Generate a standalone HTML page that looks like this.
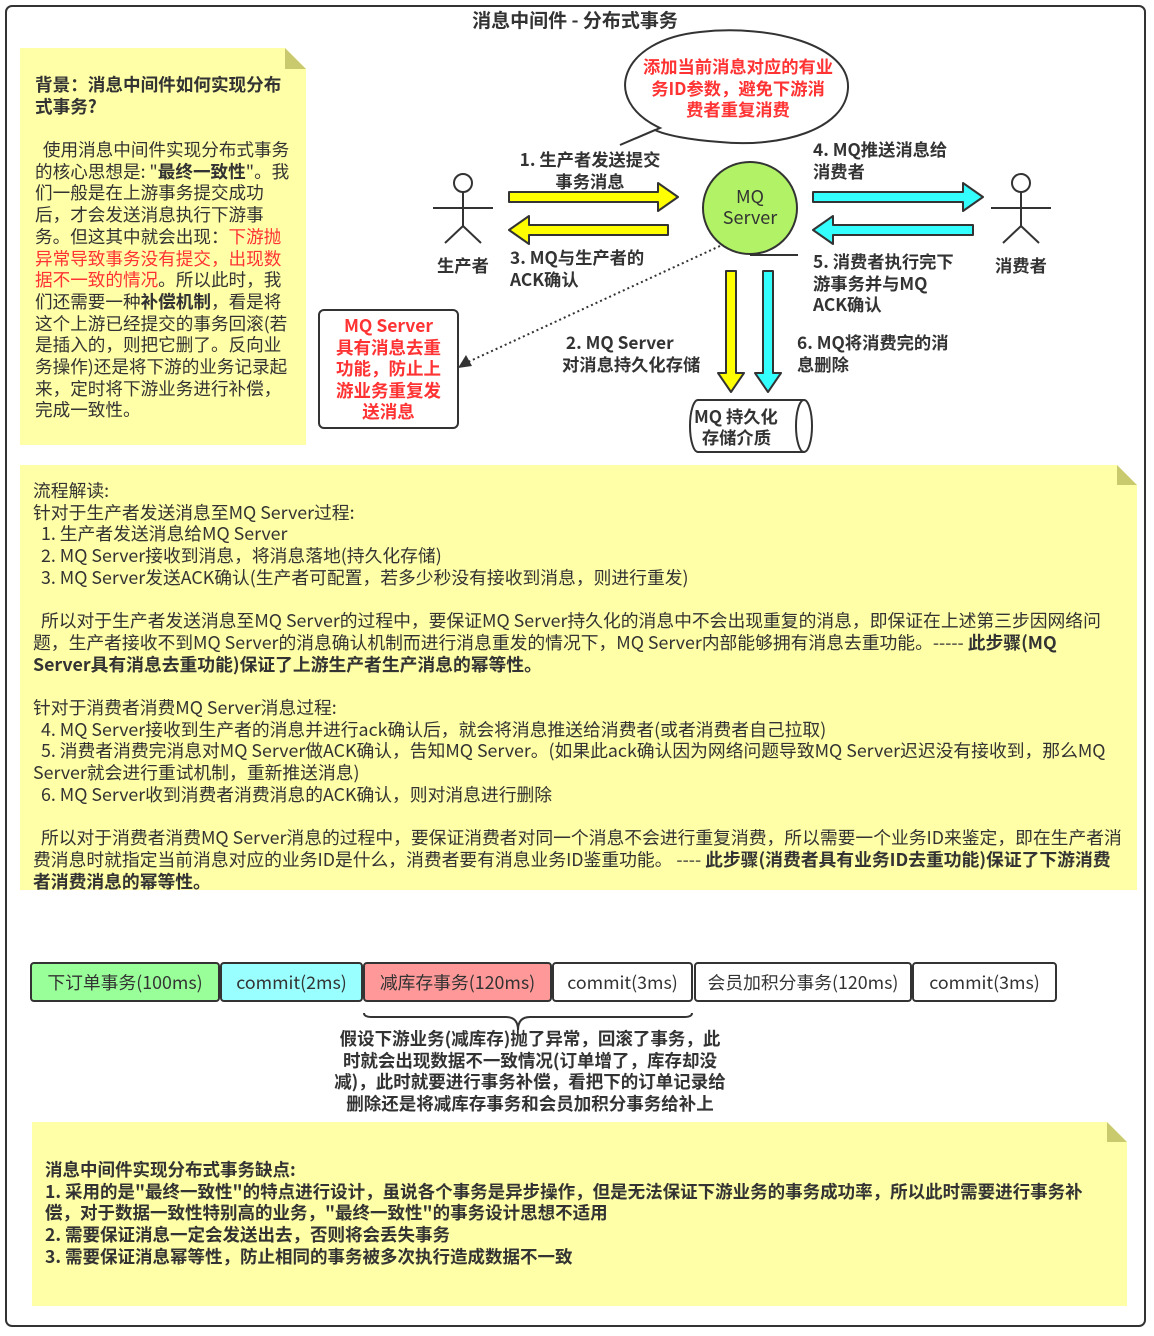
<!DOCTYPE html>
<html><head><meta charset="utf-8"><style>
body{margin:0;background:#fff;width:1154px;height:1336px;position:relative;overflow:hidden;font-family:"Noto Sans CJK SC","Liberation Sans",sans-serif;color:#333}
.a{position:absolute;white-space:nowrap}
.t{font-size:17.6px;line-height:21.7px}
.b{font-weight:bold}
.r{color:#f33}
.c{text-align:center}
</style></head><body>
<svg class="a" style="left:0;top:0" width="1154" height="1336">
<rect x="6" y="6" width="1139" height="1320" rx="6" fill="#fff" stroke="#333" stroke-width="2"/>
<path d="M20 48 H285 L306 69 V445 H20 Z" fill="#ffffa8"/>
<path d="M285 48 V69 H306 Z" fill="#c9c96e"/>
<path d="M20 465 H1117 L1137 485 V890 H20 Z" fill="#ffffa8"/>
<path d="M1117 465 V485 H1137 Z" fill="#c9c96e"/>
<path d="M32 1122 H1107 L1127 1142 V1306 H32 Z" fill="#ffffa8"/>
<path d="M1107 1122 V1142 H1127 Z" fill="#c9c96e"/>
<rect x="319" y="310" width="139" height="118" rx="5" fill="#fff" stroke="#333" stroke-width="2"/>
<path d="M660 128 C600 100 620 40 700 32 C770 24 850 45 848 88 C846 130 780 148 720 142 C690 140 665 135 655 130 L620 145 Z" fill="#fff" stroke="#333" stroke-width="2"/>
<g stroke="#333" stroke-width="2" fill="none">
<circle cx="463" cy="183" r="9"/><line x1="463" y1="192" x2="463" y2="226"/><line x1="433" y1="208" x2="493" y2="208"/><line x1="463" y1="226" x2="445" y2="243"/><line x1="463" y1="226" x2="481" y2="243"/>
<circle cx="1021" cy="183" r="9"/><line x1="1021" y1="192" x2="1021" y2="226"/><line x1="991" y1="208" x2="1051" y2="208"/><line x1="1021" y1="226" x2="1003" y2="243"/><line x1="1021" y1="226" x2="1039" y2="243"/>
</g>
<ellipse cx="750" cy="208" rx="47" ry="46" fill="#b1f266" stroke="#333" stroke-width="2"/>
<line x1="750" y1="255" x2="798" y2="255" stroke="#333" stroke-width="2"/>
<g stroke="#333" stroke-width="2" stroke-linejoin="round">
<path d="M509 192 H658 V183 L678 197 L658 211 V202 H509 Z" fill="#ff0"/>
<path d="M668 225 H529 V216 L509 230 L529 244 V235 H668 Z" fill="#ff0"/>
<path d="M813 192 H963 V183 L983 197 L963 211 V202 H813 Z" fill="#3ff"/>
<path d="M973 225 H833 V216 L813 230 L833 244 V235 H973 Z" fill="#3ff"/>
<path d="M726 271 V373 H718 L731 392 L744 373 H736 V271 Z" fill="#ff0"/>
<path d="M763 271 V373 H755 L768 392 L781 373 H773 V271 Z" fill="#3ff"/>
</g>
<line x1="720" y1="246" x2="468" y2="362" stroke="#333" stroke-width="2" stroke-dasharray="2 3"/>
<path d="M458 368 L466 355 L472 366 Z" fill="#333"/>
<path d="M698 400 H804 A8 26 0 0 1 804 452 H698 A8 26 0 0 1 698 400 Z" fill="#fff" stroke="#333" stroke-width="2"/>
<path d="M804 400 A8 26 0 0 0 804 452" fill="none" stroke="#333" stroke-width="2"/>
<g stroke="#333" stroke-width="2">
<rect x="31" y="963" width="188" height="38" rx="3" fill="#99ff99"/>
<rect x="221" y="963" width="141" height="38" rx="3" fill="#99ffff"/>
<rect x="364" y="963" width="187" height="38" rx="3" fill="#ff9999"/>
<rect x="553" y="963" width="139" height="38" rx="3" fill="#fff"/>
<rect x="695" y="963" width="216" height="38" rx="3" fill="#fff"/>
<rect x="913" y="963" width="143" height="38" rx="3" fill="#fff"/>
</g>
<path d="M364 1013 Q364 1017 372 1017 H506 Q518 1017 518 1030 Q518 1017 530 1017 H684 Q692 1017 692 1013" fill="none" stroke="#333" stroke-width="2"/>
</svg>
<div class="a b c" style="left:375px;width:400px;top:8px;font-size:19px;line-height:24px">消息中间件 - 分布式事务</div>

<div class="a b" style="left:35px;top:74px;font-size:17.6px;line-height:21.5px">背景：消息中间件如何实现分布<br>式事务?</div>
<div class="a t" style="left:35px;top:139px">&nbsp;&nbsp;使用消息中间件实现分布式事务<br>的核心思想是: "<b>最终一致性</b>"。我<br>们一般是在上游事务提交成功<br>后，才会发送消息执行下游事<br>务。但这其中就会出现：<span class="r">下游抛</span><br><span class="r">异常导致事务没有提交，出现数</span><br><span class="r">据不一致的情况</span>。所以此时，我<br>们还需要一种<b>补偿机制</b>，看是将<br>这个上游已经提交的事务回滚(若<br>是插入的，则把它删了。反向业<br>务操作)还是将下游的业务记录起<br>来，定时将下游业务进行补偿，<br>完成一致性。</div>

<div class="a b r c" style="left:319px;width:139px;top:315px;font-size:17.5px;line-height:21.5px">MQ Server<br>具有消息去重<br>功能，防止上<br>游业务重复发<br>送消息</div>
<div class="a b r c" style="left:623px;width:230px;top:55px;font-size:17.3px;line-height:21.5px">添加当前消息对应的有业<br>务ID参数，避免下游消<br>费者重复消费</div>

<div class="a b c" style="left:500px;width:180px;top:148px;font-size:17.3px;line-height:21.5px">1. 生产者发送提交<br>事务消息</div>
<div class="a b" style="left:510px;top:246px;font-size:17.3px;line-height:21.5px">3. MQ与生产者的<br>ACK确认</div>
<div class="a b" style="left:437px;top:252px;font-size:17.3px">生产者</div>
<div class="a b" style="left:995px;top:252px;font-size:17.3px">消费者</div>
<div class="a b" style="left:813px;top:138px;font-size:17.3px;line-height:21.5px">4. MQ推送消息给<br>消费者</div>
<div class="a b" style="left:813px;top:250px;font-size:17.3px;line-height:21.5px">5. 消费者执行完下<br>游事务并与MQ<br>ACK确认</div>
<div class="a b" style="left:562px;top:331px;font-size:17.3px;line-height:21.5px">&nbsp;2. MQ Server<br>对消息持久化存储</div>
<div class="a b" style="left:797px;top:331px;font-size:17.3px;line-height:21.5px">6. MQ将消费完的消<br>息删除</div>
<div class="a" style="left:703px;top:186px;width:94px;text-align:center;font-size:18px;line-height:21px;color:#333">MQ<br>Server</div>
<div class="a b" style="left:694px;top:405px;font-size:17.3px;line-height:21px">MQ 持久化<br>&nbsp;&nbsp;存储介质</div>

<div class="a t" style="left:33px;top:480px;font-size:17.8px">流程解读:<br>针对于生产者发送消息至MQ Server过程:<br>&nbsp;&nbsp;1. 生产者发送消息给MQ Server<br>&nbsp;&nbsp;2. MQ Server接收到消息，将消息落地(持久化存储)<br>&nbsp;&nbsp;3. MQ Server发送ACK确认(生产者可配置，若多少秒没有接收到消息，则进行重发)<br><br>&nbsp;&nbsp;所以对于生产者发送消息至MQ Server的过程中，要保证MQ Server持久化的消息中不会出现重复的消息，即保证在上述第三步因网络问<br>题，生产者接收不到MQ Server的消息确认机制而进行消息重发的情况下，MQ Server内部能够拥有消息去重功能。----- <b>此步骤(MQ</b><br><b>Server具有消息去重功能)保证了上游生产者生产消息的幂等性。</b><br><br>针对于消费者消费MQ Server消息过程:<br>&nbsp;&nbsp;4. MQ Server接收到生产者的消息并进行ack确认后，就会将消息推送给消费者(或者消费者自己拉取)<br>&nbsp;&nbsp;5. 消费者消费完消息对MQ Server做ACK确认，告知MQ Server。(如果此ack确认因为网络问题导致MQ Server迟迟没有接收到，那么MQ<br>Server就会进行重试机制，重新推送消息)<br>&nbsp;&nbsp;6. MQ Server收到消费者消费消息的ACK确认，则对消息进行删除<br><br>&nbsp;&nbsp;所以对于消费者消费MQ Server消息的过程中，要保证消费者对同一个消息不会进行重复消费，所以需要一个业务ID来鉴定，即在生产者消<br>费消息时就指定当前消息对应的业务ID是什么，消费者要有消息业务ID鉴重功能。 ---- <b>此步骤(消费者具有业务ID去重功能)保证了下游消费</b><br><b>者消费消息的幂等性。</b></div>

<div class="a c" style="left:31px;width:188px;top:971px;font-size:17.8px;line-height:22px">下订单事务(100ms)</div>
<div class="a c" style="left:221px;width:141px;top:971px;font-size:17.8px;line-height:22px">commit(2ms)</div>
<div class="a c" style="left:364px;width:187px;top:971px;font-size:17.8px;line-height:22px">减库存事务(120ms)</div>
<div class="a c" style="left:553px;width:139px;top:971px;font-size:17.8px;line-height:22px">commit(3ms)</div>
<div class="a c" style="left:695px;width:216px;top:971px;font-size:17.8px;line-height:22px">会员加积分事务(120ms)</div>
<div class="a c" style="left:913px;width:143px;top:971px;font-size:17.8px;line-height:22px">commit(3ms)</div>

<div class="a b c" style="left:310px;width:440px;top:1028px;font-size:17.5px;line-height:21.5px">假设下游业务(减库存)抛了异常，回滚了事务，此<br>时就会出现数据不一致情况(订单增了，库存却没<br>减)，此时就要进行事务补偿，看把下的订单记录给<br>删除还是将减库存事务和会员加积分事务给补上</div>

<div class="a b" style="left:45px;top:1159px;font-size:17.5px;line-height:21.7px">消息中间件实现分布式事务缺点:<br>1. 采用的是"最终一致性"的特点进行设计，虽说各个事务是异步操作，但是无法保证下游业务的事务成功率，所以此时需要进行事务补<br>偿，对于数据一致性特别高的业务，"最终一致性"的事务设计思想不适用<br>2. 需要保证消息一定会发送出去，否则将会丢失事务<br>3. 需要保证消息幂等性，防止相同的事务被多次执行造成数据不一致</div>
</body></html>
